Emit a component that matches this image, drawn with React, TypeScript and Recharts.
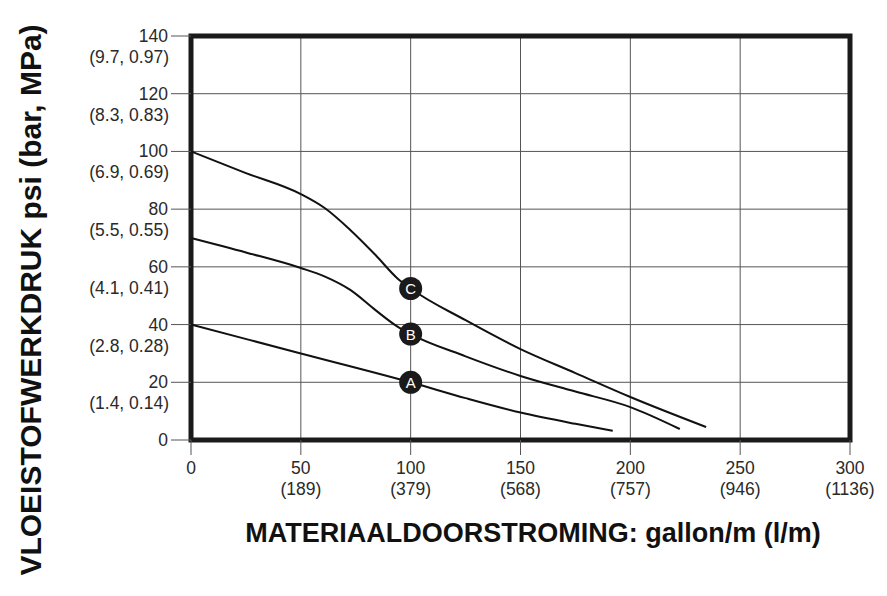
import React from 'react';
import { LineChart, Line, XAxis, YAxis, CartesianGrid, ReferenceArea, Label } from 'recharts';

// flow in gallon/min, pressure in psi
const flowA = [0, 50, 100, 125, 150, 175, 192];
const pressureA = [40, 30, 20, 14.5, 9.5, 5.6, 3.2];

const flowB = [0, 25, 50, 61, 72.5, 84, 94, 100, 125, 150, 175, 200, 222.5];
const pressureB = [70, 65, 59.6, 56.6, 52, 45, 39.3, 36.7, 29, 22.2, 16.8, 11.4, 3.8];

const flowC = [0, 25, 50, 61, 72.5, 84, 94, 100, 125, 150, 175, 200, 234.5];
const pressureC = [100, 92.5, 85.2, 80.3, 72.8, 64.1, 56, 52.5, 41.5, 31.5, 23.2, 14.9, 4.5];

const markerFlow = 100;

const xTicks = [0, 50, 100, 150, 200, 250, 300];
const xMetric = ['', '(189)', '(379)', '(568)', '(757)', '(946)', '(1136)'];
const yTicks = [0, 20, 40, 60, 80, 100, 120, 140];
const yMetric = ['', '(1.4, 0.14)', '(2.8, 0.28)', '(4.1, 0.41)', '(5.5, 0.55)', '(6.9, 0.69)', '(8.3, 0.83)', '(9.7, 0.97)'];

const toData = (xs: number[], ys: number[]) => xs.map((flow, i) => ({ flow, pressure: ys[i] }));

const curves = [
  { name: 'A', data: toData(flowA, pressureA) },
  { name: 'B', data: toData(flowB, pressureB) },
  { name: 'C', data: toData(flowC, pressureC) },
];

const font = '"Liberation Sans", Arial, sans-serif';

const YTick = (props: any) => {
  const { x, y, payload } = props;
  const i = yTicks.indexOf(payload.value);
  return (
    <g>
      <text x={x} y={y} dy={6} textAnchor="end" fontSize={17.5} fill="#2a2a2a" fontFamily={font}>
        {payload.value}
      </text>
      {yMetric[i] ? (
        <text x={x + 1} y={y} dy={27} textAnchor="end" fontSize={17.5} fill="#2a2a2a" fontFamily={font}>
          {yMetric[i]}
        </text>
      ) : null}
    </g>
  );
};

const XTick = (props: any) => {
  const { x, y, payload } = props;
  const i = xTicks.indexOf(payload.value);
  return (
    <g>
      <text x={x} y={y} dy={15} textAnchor="middle" fontSize={17.5} fill="#2a2a2a" fontFamily={font}>
        {payload.value}
      </text>
      {xMetric[i] ? (
        <text x={x} y={y} dy={36} textAnchor="middle" fontSize={17.5} fill="#2a2a2a" fontFamily={font}>
          {xMetric[i]}
        </text>
      ) : null}
    </g>
  );
};

const makeDot = (letter: string) => (props: any) => {
  const { cx, cy, payload, index } = props;
  if (payload.flow !== markerFlow) return <g key={`d-${letter}-${index}`} />;
  return (
    <g key={`d-${letter}-${index}`}>
      <circle cx={cx} cy={cy} r={11.5} fill="#1a1a1a" />
      <text x={cx} y={cy} dy={5.5} textAnchor="middle" fontSize={15} fill="#fff" fontFamily={font}>
        {letter}
      </text>
    </g>
  );
};

export default function App() {
  return (
    <div style={{ position: 'absolute', left: 0, top: 0, width: 887, height: 596, background: '#fff' }}>
      <LineChart width={887} height={596} margin={{ top: 36, right: 37, bottom: 0, left: 0 }}>
        <CartesianGrid stroke="#555" strokeWidth={1} horizontalValues={yTicks} verticalValues={xTicks} />
        <XAxis
          type="number"
          dataKey="flow"
          domain={[0, 300]}
          ticks={xTicks}
          interval={0}
          height={156}
          axisLine={false}
          tickLine={{ stroke: '#555' }}
          tickSize={15}
          tickMargin={4}
          tick={<XTick />}
          allowDuplicatedCategory={false}
        >
          <Label
            content={() => (
              <text x={533} y={542} textAnchor="middle" fontSize={27} fontWeight="bold" fill="#111" fontFamily={font}>
                MATERIAALDOORSTROMING: gallon/m (l/m)
              </text>
            )}
          />
        </XAxis>
        <YAxis
          type="number"
          domain={[0, 140]}
          ticks={yTicks}
          interval={0}
          width={191}
          axisLine={false}
          tickLine={{ stroke: '#555' }}
          tickSize={20}
          tickMargin={3}
          tick={<YTick />}
        >
          <Label
            content={() => (
              <text
                x={41}
                y={300}
                transform="rotate(-90 41 300)"
                textAnchor="middle"
                fontSize={30}
                fontWeight="bold"
                fill="#111"
                fontFamily={font}
              >
                VLOEISTOFWERKDRUK psi (bar, MPa)
              </text>
            )}
          />
        </YAxis>
        {curves.map((c) => (
          <Line
            key={c.name}
            data={c.data}
            dataKey="pressure"
            type="monotone"
            stroke="#111"
            strokeWidth={2}
            dot={makeDot(c.name)}
            activeDot={false}
            isAnimationActive={false}
          />
        ))}
        <ReferenceArea x1={0} x2={300} y1={0} y2={140} fill="none" stroke="#1a1a1a" strokeWidth={5} ifOverflow="visible" />
      </LineChart>
    </div>
  );
}
